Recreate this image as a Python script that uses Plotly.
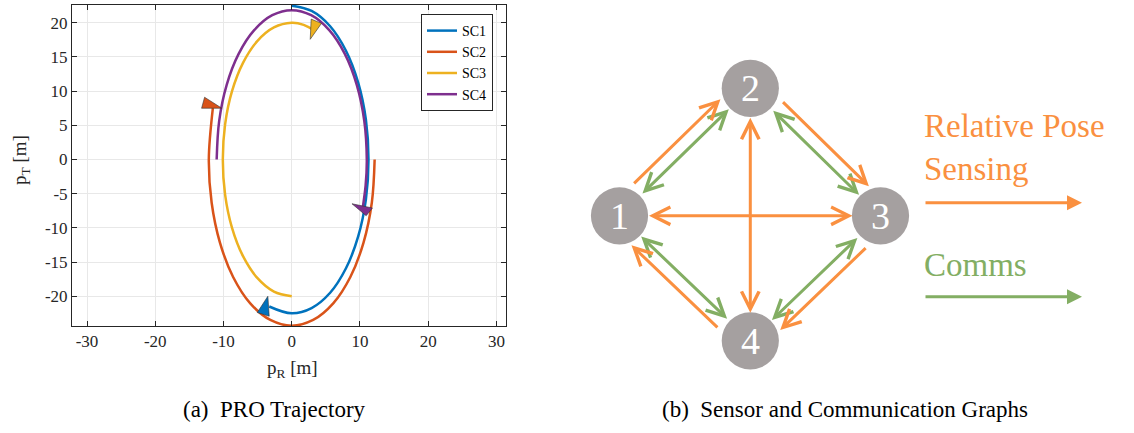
import math
import plotly.graph_objects as go

# ---------------- Data: (a) PRO trajectory ----------------
sc1_x = [0.0, 2.91, 5.63, 7.95, 9.74, 10.87, 11.25, 10.87, 9.74, 7.95, 5.63, 2.91, 0.0, -3.30]
sc1_y = [22.5, 21.73, 19.49, 15.91, 11.25, 5.82, 0.0, -5.82, -11.25, -15.91, -19.49, -21.73, -22.5, -21.5]
sc2_x = [12.15, 11.74, 10.52, 8.59, 6.08, 3.14, 0.0, -3.14, -6.08, -8.59, -10.52, -11.74, -12.15, -11.56]
sc2_y = [0.0, -6.29, -12.15, -17.18, -21.04, -23.47, -24.3, -23.47, -21.04, -17.18, -12.15, -6.29, 0.0, 7.51]
sc3_x = [0.0, -2.61, -5.05, -7.14, -8.75, -9.76, -10.1, -9.76, -8.75, -7.14, -5.05, -2.61, 0.0, 1.75, 3.45]
sc3_y = [-20.0, -19.32, -17.32, -14.14, -10.0, -5.18, 0.0, 5.18, 10.0, 14.14, 17.32, 19.32, 20.0, 19.70, 18.79]
sc4_x = [-11.0, -10.63, -9.53, -7.78, -5.5, -2.85, 0.0, 2.85, 5.5, 7.78, 9.53, 10.63, 11.0, 10.83, 10.36]
sc4_y = [0.0, 5.66, 10.93, 15.45, 18.92, 21.11, 21.85, 21.11, 18.92, 15.45, 10.93, 5.66, 0.0, -3.79, -7.33]

# direction-arrow triangles at the end of each trajectory (data units)
arr1_x = [-3.50, -5.05, -3.30]
arr1_y = [-20.0, -22.38, -22.92]
arr2_x = [-12.77, -13.21, -10.24]
arr2_y = [9.11, 7.50, 7.50]
arr3_x = [2.85, 2.71, 4.36]
arr3_y = [20.54, 17.58, 19.91]
arr4_x = [8.83, 11.82, 10.91]
arr4_y = [-6.47, -7.09, -8.22]

series_names = ["SC1", "SC2", "SC3", "SC4"]
x_ticks = [-30, -20, -10, 0, 10, 20, 30]
y_ticks = [-20, -15, -10, -5, 0, 5, 10, 15, 20]

# ---------------- Data: (b) sensor / communication graph ----------------
node_labels = ["1", "2", "3", "4"]
node_x = [619.5, 750.3, 880.5, 750.3]
node_y = [215.8, 88.3, 215.8, 340.8]
sensing_one_way = [(1, 2), (2, 3), (3, 4), (4, 1)]
sensing_two_way = [(1, 3), (2, 4)]
comms_two_way = [(1, 2), (2, 3), (3, 4), (4, 1)]

# ---------------- Styles ----------------
colors = ["#0072BD", "#D95319", "#EDB120", "#7E2F8E"]
ORANGE = "#FA9040"
GREEN = "#83AE63"
NODE = "#A5A0A0"
AXC = "#262626"
FONT = "Liberation Serif, Times New Roman, serif"
W, H = 1134, 433

fig = go.Figure()

xs = [sc1_x, sc2_x, sc3_x, sc4_x]
ys = [sc1_y, sc2_y, sc3_y, sc4_y]
for name, x, y, c in zip(series_names, xs, ys, colors):
    fig.add_trace(go.Scatter(x=x, y=y, mode="lines", name=name,
                             line=dict(color=c, width=2.5, shape="spline", smoothing=1.0),
                             xaxis="x", yaxis="y"))

for ax_, ay_, c in zip([arr1_x, arr2_x, arr3_x, arr4_x], [arr1_y, arr2_y, arr3_y, arr4_y], colors):
    fig.add_trace(go.Scatter(x=ax_ + [ax_[0]], y=ay_ + [ay_[0]], mode="lines", fill="toself",
                             fillcolor=c, line=dict(color="#333333", width=0.6),
                             showlegend=False, hoverinfo="skip", xaxis="x", yaxis="y"))

# ---------------- Graph geometry ----------------
cx = sum(node_x) / 4.0
cy = sum(node_y) / 4.0
R = 28.6


def segment(a, b, gap_a, gap_b, offset):
    xa, ya = node_x[a - 1], node_y[a - 1]
    xb, yb = node_x[b - 1], node_y[b - 1]
    dx, dy = xb - xa, yb - ya
    L = math.hypot(dx, dy)
    ux, uy = dx / L, dy / L
    px, py = -uy, ux
    mx, my = (xa + xb) / 2 - cx, (ya + yb) / 2 - cy
    if px * mx + py * my < 0:
        px, py = -px, -py
    p0 = (xa + ux * gap_a + px * offset, ya + uy * gap_a + py * offset)
    p1 = (xb - ux * gap_b + px * offset, yb - uy * gap_b + py * offset)
    return p0, p1


def arrow(p_tail, p_head, color, both, head=5, size=1.15, width=3):
    kw = dict(x=p_head[0], y=p_head[1], ax=p_tail[0], ay=p_tail[1],
              xref="x2", yref="y2", axref="x2", ayref="y2", text="",
              showarrow=True, arrowhead=head, arrowsize=size, arrowwidth=width,
              arrowcolor=color, standoff=0)
    if both:
        kw.update(arrowside="end+start", startarrowhead=head, startarrowsize=size, startstandoff=0)
    fig.add_annotation(**kw)


for a, b in comms_two_way:
    p0, p1 = segment(a, b, 30, 30, 0)
    arrow(p0, p1, GREEN, True)
for a, b in sensing_one_way:
    p0, p1 = segment(a, b, 31, 29, 13)
    arrow(p0, p1, ORANGE, False)
for a, b in sensing_two_way:
    p0, p1 = segment(a, b, 28, 28, 0)
    arrow(p0, p1, ORANGE, True)

# nodes
for lab, nx, ny in zip(node_labels, node_x, node_y):
    fig.add_shape(type="circle", xref="x2", yref="y2", x0=nx - R, x1=nx + R, y0=ny - R, y1=ny + R,
                  fillcolor=NODE, line=dict(width=0))
    fig.add_annotation(x=nx, y=ny, xref="x2", yref="y2", text=lab, showarrow=False,
                       font=dict(family=FONT, size=38, color="white"), xanchor="center", yanchor="middle")

# legend of graph
fig.add_annotation(x=922, y=147, xref="x2", yref="y2", text="Relative Pose<br>Sensing", showarrow=False,
                   xanchor="left", yanchor="middle", align="left",
                   font=dict(family=FONT, size=33, color=ORANGE))
arrow((924, 202.7), (1082, 202.7), ORANGE, False, head=2, size=1.0, width=3)
fig.add_annotation(x=922, y=265, xref="x2", yref="y2", text="Comms", showarrow=False,
                   xanchor="left", yanchor="middle", align="left",
                   font=dict(family=FONT, size=33, color=GREEN))
arrow((924, 296.7), (1082, 296.7), GREEN, False, head=2, size=1.0, width=3)

# captions / axis titles
fig.add_annotation(x=274 / W, y=1 - 409 / H, xref="paper", yref="paper", text="(a)&nbsp;&nbsp;PRO Trajectory",
                   showarrow=False, xanchor="center", yanchor="middle",
                   font=dict(family=FONT, size=23, color="black"))
fig.add_annotation(x=845 / W, y=1 - 409 / H, xref="paper", yref="paper",
                   text="(b)&nbsp;&nbsp;Sensor and Communication Graphs",
                   showarrow=False, xanchor="center", yanchor="middle",
                   font=dict(family=FONT, size=23, color="black"))
fig.add_annotation(x=292 / W, y=1 - 369 / H, xref="paper", yref="paper", text="p<sub>R</sub> [m]",
                   showarrow=False, xanchor="center", yanchor="middle",
                   font=dict(family=FONT, size=19, color=AXC))
fig.add_annotation(x=21 / W, y=1 - 160 / H, xref="paper", yref="paper", text="p<sub>T</sub> [m]",
                   showarrow=False, textangle=-90, xanchor="center", yanchor="middle",
                   font=dict(family=FONT, size=19, color=AXC))

axis_common = dict(showline=True, linecolor=AXC, linewidth=1, mirror="ticks", ticks="inside",
                   ticklen=5, tickcolor=AXC, showgrid=True, gridcolor="#E8E8E8", gridwidth=1,
                   zeroline=False, tickfont=dict(family=FONT, size=17, color=AXC))

fig.update_layout(
    width=W, height=H, autosize=False,
    margin=dict(l=0, r=0, t=0, b=0),
    paper_bgcolor="white", plot_bgcolor="white",
    xaxis=dict(domain=[72 / W, 506 / W], range=[-32.2, 31.4], tickvals=x_ticks,
               ticktext=[str(v) for v in x_ticks], anchor="y", **axis_common),
    yaxis=dict(domain=[1 - 326 / H, 1 - 5 / H], range=[-24.35, 22.6], tickvals=y_ticks,
               ticktext=[str(v) for v in y_ticks], anchor="x", **axis_common),
    xaxis2=dict(domain=[560 / W, 1.0], range=[560, W], visible=False, anchor="y2"),
    yaxis2=dict(domain=[0, 1], range=[H, 0], visible=False, anchor="x2"),
    legend=dict(x=493 / W, y=1 - 14 / H, xanchor="right", yanchor="top", bgcolor="white",
                bordercolor=AXC, borderwidth=1, font=dict(family=FONT, size=14, color="black"),
                tracegroupgap=0, itemwidth=30),
    showlegend=True,
)

fig.write_html("out.html")
